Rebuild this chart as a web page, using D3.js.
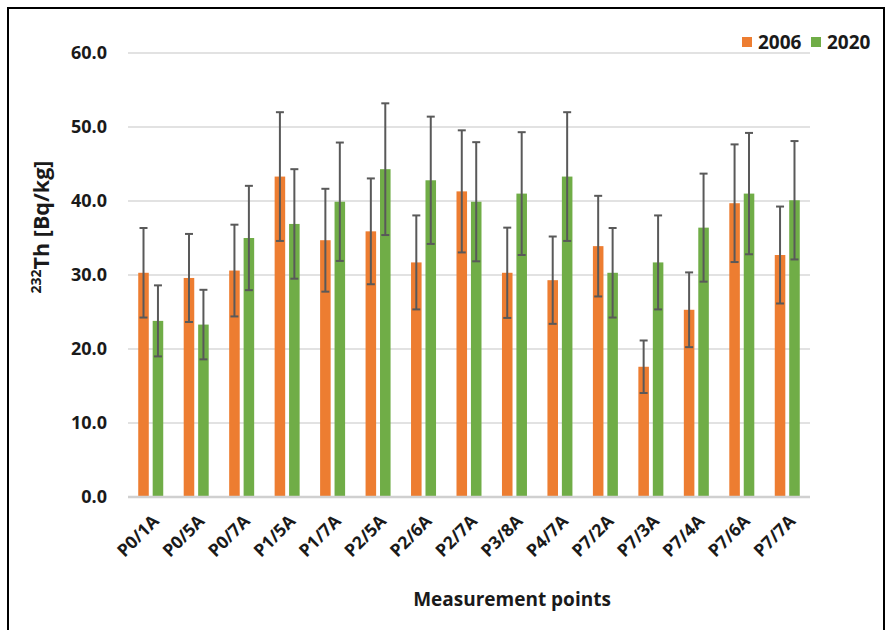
<!DOCTYPE html>
<html>
<head>
<meta charset="utf-8">
<script src="https://cdn.jsdelivr.net/npm/d3@7/dist/d3.min.js"></script>
<style>
  html, body { margin: 0; padding: 0; background: #fff; }
  svg { display: block; font-family: "Open Sans", "DejaVu Sans", sans-serif; }
</style>
</head>
<body>
<svg id="chart" width="888" height="630"></svg>
<script>
// Measurement points along the sampling transects
const categories = ["P0/1A", "P0/5A", "P0/7A", "P1/5A", "P1/7A", "P2/5A", "P2/6A", "P2/7A",
                    "P3/8A", "P4/7A", "P7/2A", "P7/3A", "P7/4A", "P7/6A", "P7/7A"];
const seriesNames = ["2006", "2020"];
// 232Th activity concentration [Bq/kg] and its uncertainty
const values2006 = [30.3, 29.6, 30.6, 43.3, 34.7, 35.9, 31.7, 41.3, 30.3, 29.3, 33.9, 17.6, 25.3, 39.7, 32.7];
const errors2006 = [6.05, 5.95, 6.2, 8.7, 6.95, 7.15, 6.35, 8.25, 6.1, 5.9, 6.8, 3.55, 5.05, 7.95, 6.55];
const values2020 = [23.8, 23.3, 35.0, 36.9, 39.9, 44.3, 42.8, 39.9, 41.0, 43.3, 30.3, 31.7, 36.4, 41.0, 40.1];
const errors2020 = [4.8, 4.7, 7.05, 7.4, 8.0, 8.9, 8.6, 8.05, 8.3, 8.7, 6.05, 6.35, 7.3, 8.2, 8.0];
const yTicks = [0, 10, 20, 30, 40, 50, 60];
const colors = { "2006": "#ED7D31", "2020": "#70AD47" };

const svg = d3.select("#chart");

// outer frame
svg.append("rect")
  .attr("x", 8).attr("y", 8).attr("width", 876).attr("height", 640)
  .attr("fill", "none").attr("stroke", "#000").attr("stroke-width", 2);

const plotLeft = 128, plotRight = 810, plotTop = 53, plotBottom = 497;

const x = d3.scaleBand().domain(categories).range([plotLeft, plotRight]).padding(0);
const groupW = 25;
const x1 = d3.scaleBand().domain(seriesNames).range([0, groupW]).paddingInner(0.27);
const y = d3.scaleLinear().domain([0, 60]).range([plotBottom, plotTop]);

// gridlines
svg.append("g").selectAll("line")
  .data(yTicks.filter(t => t > 0))
  .join("line")
  .attr("x1", plotLeft).attr("x2", plotRight)
  .attr("y1", d => y(d)).attr("y2", d => y(d))
  .attr("stroke", "#d9d9d9").attr("stroke-width", 1.5);

// y tick labels
svg.append("g").selectAll("text")
  .data(yTicks)
  .join("text")
  .attr("x", 107).attr("y", d => y(d))
  .attr("dy", "0.36em")
  .attr("text-anchor", "end")
  .attr("font-size", 18).attr("font-weight", 700).attr("fill", "#1a1a1a")
  .text(d => d.toFixed(1));

const rows = categories.map((c, i) => ({
  cat: c,
  items: [
    { s: "2006", v: values2006[i], e: errors2006[i] },
    { s: "2020", v: values2020[i], e: errors2020[i] }
  ]
}));

const groups = svg.append("g").selectAll("g")
  .data(rows)
  .join("g")
  .attr("transform", d => `translate(${x(d.cat) + (x.bandwidth() - groupW) / 2},0)`);

// bars
groups.selectAll("rect")
  .data(d => d.items)
  .join("rect")
  .attr("x", d => x1(d.s))
  .attr("y", d => y(d.v))
  .attr("width", x1.bandwidth())
  .attr("height", d => y(0) - y(d.v))
  .attr("fill", d => colors[d.s]);

// error bars
const eb = groups.selectAll("g.err")
  .data(d => d.items)
  .join("g").attr("class", "err")
  .attr("stroke", "#595959").attr("stroke-width", 2);
eb.append("line")
  .attr("x1", d => x1(d.s) + x1.bandwidth() / 2)
  .attr("x2", d => x1(d.s) + x1.bandwidth() / 2)
  .attr("y1", d => y(d.v + d.e)).attr("y2", d => y(d.v - d.e));
eb.append("line")
  .attr("x1", d => x1(d.s) + x1.bandwidth() / 2 - 4)
  .attr("x2", d => x1(d.s) + x1.bandwidth() / 2 + 4)
  .attr("y1", d => y(d.v + d.e)).attr("y2", d => y(d.v + d.e));
eb.append("line")
  .attr("x1", d => x1(d.s) + x1.bandwidth() / 2 - 4)
  .attr("x2", d => x1(d.s) + x1.bandwidth() / 2 + 4)
  .attr("y1", d => y(d.v - d.e)).attr("y2", d => y(d.v - d.e));

// baseline
svg.append("line")
  .attr("x1", plotLeft).attr("x2", plotRight)
  .attr("y1", y(0)).attr("y2", y(0))
  .attr("stroke", "#d0d0d0").attr("stroke-width", 2.5);

// x category labels
svg.append("g").selectAll("text")
  .data(categories)
  .join("text")
  .attr("transform", d => `translate(${x(d) + x.bandwidth() / 2 + 5},${plotBottom + 21}) rotate(-45)`)
  .attr("text-anchor", "end")
  .attr("dy", "0.35em")
  .attr("font-size", 17.5).attr("font-weight", 700).attr("fill", "#1a1a1a")
  .text(d => d);

// axis titles
svg.append("text")
  .attr("x", 512).attr("y", 606)
  .attr("text-anchor", "middle")
  .attr("font-size", 19).attr("font-weight", 700).attr("fill", "#1a1a1a")
  .text("Measurement points");

const yt = svg.append("text")
  .attr("transform", "translate(49,227) rotate(-90)")
  .attr("text-anchor", "middle")
  .attr("font-size", 21.5).attr("font-weight", 700).attr("fill", "#1a1a1a");
yt.append("tspan").attr("font-size", 14).attr("dy", -8).text("232");
yt.append("tspan").attr("dy", 8).text("Th [Bq/kg]");

// legend
const legend = svg.append("g").attr("transform", "translate(742,37)");
seriesNames.forEach((s, i) => {
  const g = legend.append("g").attr("transform", `translate(${i * 69},0)`);
  g.append("rect").attr("x", 0).attr("y", 0).attr("width", 10).attr("height", 10).attr("fill", colors[s]);
  g.append("text").attr("x", 16).attr("y", 5).attr("dy", "0.36em")
    .attr("font-size", 19).attr("font-weight", 700).attr("fill", "#1a1a1a").text(s);
});
</script>
</body>
</html>
